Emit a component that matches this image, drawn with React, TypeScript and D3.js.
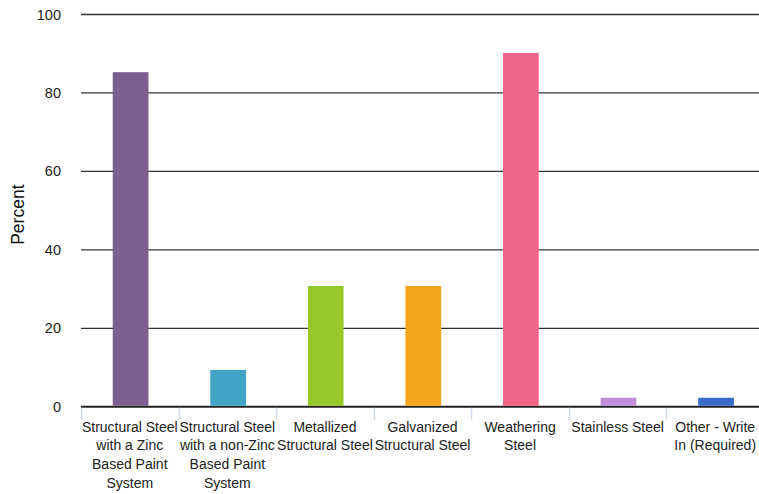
import React from "react";
import * as d3 from "d3";

const categories: string[][] = [
  ["Structural Steel", "with a Zinc", "Based Paint", "System"],
  ["Structural Steel", "with a non-Zinc", "Based Paint", "System"],
  ["Metallized", "Structural Steel"],
  ["Galvanized", "Structural Steel"],
  ["Weathering", "Steel"],
  ["Stainless Steel"],
  ["Other - Write", "In (Required)"],
];
const values: number[] = [85.3, 9.4, 30.8, 30.8, 90.2, 2.3, 2.3];
const colors: string[] = ["#7b5f8e", "#40a4c4", "#96c82a", "#f5a41c", "#f06687", "#c08fd9", "#3a6bca"];
const yTicks: number[] = [0, 20, 40, 60, 80, 100];

const W = 759;
const H = 494;
const left = 81;
const right = 764;
const top = 14.5;
const bottom = 406.8;

export default function App() {
  const x = d3
    .scaleBand<number>()
    .domain(d3.range(values.length))
    .range([left, right])
    .paddingInner(0)
    .paddingOuter(0);
  const y = d3.scaleLinear().domain([0, 100]).range([bottom, top]);
  const bw = x.bandwidth() * 0.366;
  const font = "'Liberation Sans', Arial, Helvetica, sans-serif";

  return (
    <svg
      width={W}
      height={H}
      style={{ position: "fixed", left: 0, top: 0, background: "#fff" }}
      fontFamily={font}
    >
      {yTicks.map((t) => (
        <g key={t}>
          <line
            x1={left}
            x2={W}
            y1={y(t)}
            y2={y(t)}
            stroke={t === 0 ? "#222" : "#333"}
            strokeWidth={t === 0 ? 2 : 1.3}
          />
          <text x={61} y={y(t)} dy="0.35em" textAnchor="end" fontSize={14.5} fill="#222">
            {t}
          </text>
        </g>
      ))}
      {d3.range(values.length + 1).map((i) => {
        const xx = Math.round(i < values.length ? x(i)! : right) + 0.5;
        return <line key={i} x1={xx} x2={xx} y1={bottom + 1} y2={bottom + 13} stroke="#d3dcec" strokeWidth={1.5} />;
      })}
      {values.map((v, i) => {
        const cx = x(i)! + x.bandwidth() / 2 + 0.8;
        return (
          <rect
            key={i}
            x={cx - bw / 2}
            y={y(v)}
            width={bw}
            height={bottom - 1 - y(v)}
            fill={colors[i]}
          />
        );
      })}
      {categories.map((lines, i) => {
        const cx = x(i)! + x.bandwidth() / 2;
        return (
          <text key={i} textAnchor="middle" fontSize={14} fill="#222">
            {lines.map((l, j) => (
              <tspan key={j} x={cx} y={431.5 + j * 18.8}>
                {l}
              </tspan>
            ))}
          </text>
        );
      })}
      <text
        transform={`translate(23.5,${(top + bottom) / 2 + 4}) rotate(-90)`}
        textAnchor="middle"
        fontSize={17.5}
        fill="#111"
      >
        Percent
      </text>
    </svg>
  );
}
